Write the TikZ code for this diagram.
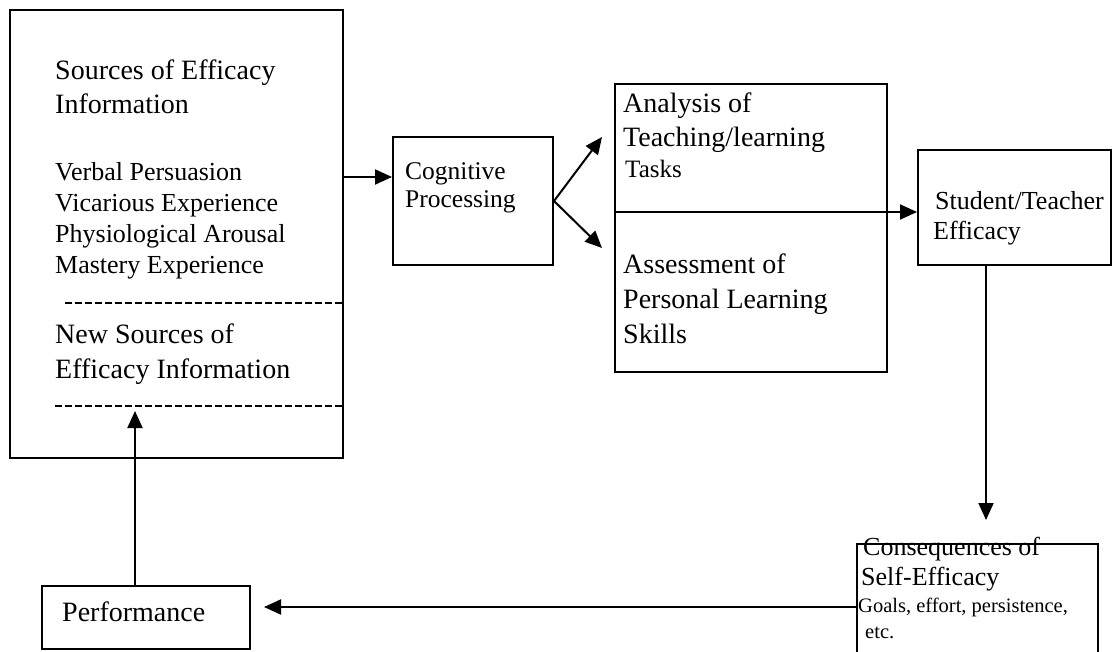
\documentclass[tikz,border=0pt]{standalone}
\usepackage{fontspec}
\setmainfont{Liberation Serif}
\usetikzlibrary{arrows.meta, calc}
\tikzset{
    box/.style={rectangle, draw=black, line width=2pt, inner sep=0pt},
    txt/.style={anchor=base west, inner sep=0pt, align=left},
    arrow/.style={line width=2pt, -{Triangle[length=17pt, width=15pt]}},
    divider/.style={line width=2pt, dash pattern=on 7pt off 3pt},
    titlefont/.style={font=\fontsize{28}{34}\selectfont},
    listfont/.style={font=\fontsize{26}{31.3}\selectfont},
    midfont/.style={font=\fontsize{26}{30}\selectfont},
    smallfont/.style={font=\fontsize{20.5}{26}\selectfont}
}
\begin{document}
\begin{tikzpicture}[x=1pt, y=-1pt]
    \useasboundingbox (0,0) rectangle (1116,652);

    % boxes
    \node (src) [box, minimum width=333pt, minimum height=448pt] at (176.5,234) {};
    \node (cog) [box, minimum width=160pt, minimum height=128pt] at (473,201) {};
    \node (tasks) [box, minimum width=272pt, minimum height=288pt] at (751,228) {};
    \node (eff) [box, minimum width=193pt, minimum height=115pt] at (1014.5,207.5) {};
    \node (cons) [box, minimum width=241pt, minimum height=122pt] at (977.5,605) {};
    \node (perf) [box, minimum width=208pt, minimum height=63pt] at (146,617.5) {};

    % texts (placed at the baseline of their last line)
    \node (srctitle) [txt, titlefont] at (55,114) {Sources of Efficacy\\Information};
    \node (srclist) [txt, listfont] at (55,274) {Verbal Persuasion\\Vicarious Experience\\Physiological Arousal\\Mastery Experience};
    \node (newsrc) [txt, font=\fontsize{28}{35}\selectfont] at (55,378) {New Sources of\\Efficacy Information};
    \node (cogtext) [txt, font=\fontsize{25.5}{28}\selectfont] at (405,208) {Cognitive\\Processing};
    \node (tasktext) [txt, titlefont] at (623,147) {Analysis of\\Teaching/learning};
    \node (tasksword) [txt, font=\fontsize{25}{30}\selectfont] at (625,178) {Tasks};
    \node (assess) [txt, font=\fontsize{28}{35}\selectfont] at (623,343) {Assessment of\\Personal Learning\\Skills};
    \node (efftext) [txt, midfont] at (933,240) {\hspace{2pt}Student/Teacher\\Efficacy};
    \node (constext) [txt, midfont] at (861,585) {\hspace{2pt}Consequences of\\Self-Efficacy};
    \node (goals) [txt, smallfont] at (858,638) {Goals, effort, persistence,\\\hspace{7pt}etc.};
    \node (perftext) [txt, titlefont] at (62,621) {Performance};

    % dashed dividers
    \draw [divider] (65,303) -- (src.east |- 0,303);
    \draw [divider] (55,406) -- (src.east |- 0,406);

    % arrow ends
    \coordinate (up) at (602,137);
    \coordinate (down) at (602,248);
    \coordinate (split) at (tasks.west |- 0,212);
    \coordinate (drop) at (986,520);
    \coordinate (back) at (135,411);

    \draw [arrow] (src.east |- 0,177) -- (cog.west |- 0,177);
    \draw [arrow] (cog.east) -- (up);
    \draw [arrow] (cog.east) -- (down);
    \draw [arrow] (split) -- (eff.west |- split);
    \draw [arrow] (eff.south -| drop) -- (drop);
    \draw [arrow, shorten >=13pt] (cons.west |- 0,607) -- (perf.east |- 0,607);
    \draw [arrow] (perf.north -| back) -- (back);
\end{tikzpicture}
\end{document}
